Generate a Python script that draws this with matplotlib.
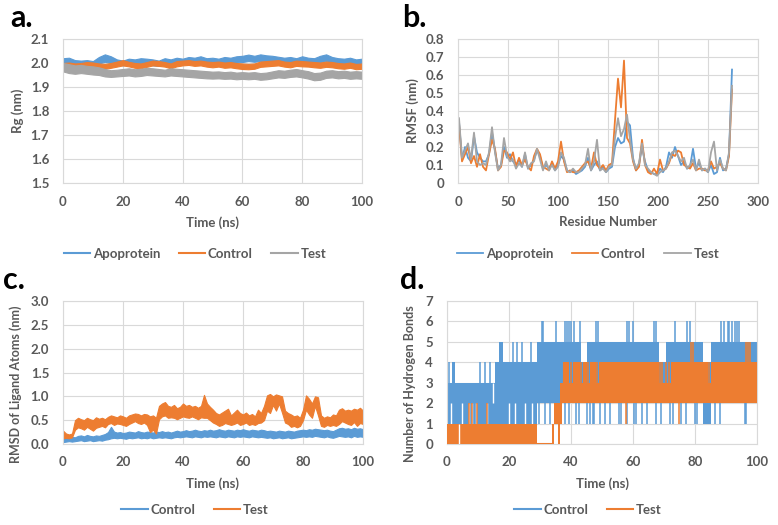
import numpy as np
import matplotlib
matplotlib.use("Agg")
import matplotlib.pyplot as plt

# ---------------- data ----------------
# a. Rg, band per 2 ns (lower / upper edge of the noisy trace)
rg_time = list(range(0, 101, 2))
rg_apo_hi = [2.020, 2.022, 2.012, 2.010, 2.012, 2.008, 2.025, 2.036, 2.028, 2.015, 2.010, 2.018, 2.015,
             2.020, 2.018, 2.015, 2.010, 2.020, 2.015, 2.022, 2.018, 2.025, 2.022, 2.028, 2.020, 2.022,
             2.018, 2.025, 2.022, 2.028, 2.030, 2.035, 2.030, 2.036, 2.032, 2.030, 2.026, 2.022, 2.025,
             2.020, 2.028, 2.022, 2.020, 2.030, 2.036, 2.025, 2.020, 2.018, 2.022, 2.015, 2.018]
rg_apo_lo = [1.995, 1.998, 1.990, 1.988, 1.992, 1.990, 1.998, 2.005, 2.000, 1.995, 1.990, 1.994, 1.990,
             1.996, 1.995, 1.990, 1.988, 1.995, 1.992, 1.996, 1.995, 2.000, 1.998, 2.000, 1.996, 1.998,
             1.995, 2.000, 1.998, 2.002, 2.004, 2.008, 2.005, 2.008, 2.006, 2.004, 2.000, 1.998, 2.000,
             1.996, 2.002, 1.998, 1.995, 2.004, 2.008, 2.000, 1.995, 1.994, 1.996, 1.990, 1.992]
rg_ctl_hi = [2.000, 2.002, 1.998, 2.000, 2.004, 2.002, 1.998, 1.996, 2.000, 2.006, 2.012, 2.005, 2.000,
             1.998, 2.004, 2.010, 2.008, 2.004, 1.998, 2.008, 2.010, 2.012, 2.008, 2.010, 2.006, 2.004,
             2.006, 2.002, 2.004, 2.000, 1.998, 1.996, 1.998, 2.006, 2.008, 2.010, 2.012, 2.006, 2.004,
             2.010, 2.008, 2.006, 2.004, 2.002, 2.006, 2.004, 2.000, 1.998, 2.002, 1.996, 1.998]
rg_ctl_lo = [1.985, 1.980, 1.978, 1.984, 1.986, 1.984, 1.980, 1.976, 1.980, 1.985, 1.990, 1.986, 1.980,
             1.978, 1.984, 1.990, 1.988, 1.985, 1.978, 1.986, 1.990, 1.992, 1.988, 1.990, 1.985, 1.982,
             1.985, 1.980, 1.982, 1.978, 1.975, 1.974, 1.976, 1.984, 1.986, 1.988, 1.990, 1.985, 1.982,
             1.988, 1.986, 1.985, 1.982, 1.980, 1.984, 1.982, 1.978, 1.976, 1.980, 1.974, 1.976]
rg_test_hi = [2.000, 1.995, 1.990, 1.992, 1.988, 1.986, 1.982, 1.975, 1.970, 1.972, 1.975, 1.978, 1.974,
              1.976, 1.980, 1.978, 1.975, 1.972, 1.978, 1.976, 1.974, 1.972, 1.970, 1.968, 1.966, 1.964,
              1.965, 1.962, 1.964, 1.960, 1.962, 1.960, 1.962, 1.958, 1.960, 1.965, 1.970, 1.968, 1.972,
              1.975, 1.970, 1.966, 1.958, 1.960, 1.968, 1.970, 1.966, 1.968, 1.964, 1.966, 1.964]
rg_test_lo = [1.965, 1.958, 1.955, 1.958, 1.955, 1.952, 1.950, 1.944, 1.942, 1.944, 1.946, 1.948, 1.944,
              1.946, 1.950, 1.948, 1.946, 1.944, 1.948, 1.946, 1.944, 1.942, 1.940, 1.938, 1.936, 1.935,
              1.936, 1.934, 1.935, 1.932, 1.934, 1.932, 1.934, 1.930, 1.932, 1.936, 1.940, 1.938, 1.942,
              1.944, 1.940, 1.935, 1.928, 1.930, 1.938, 1.940, 1.936, 1.938, 1.934, 1.936, 1.934]

# b. RMSF per residue (every 3rd residue)
residue = list(range(1, 275, 3))
rmsf_apo = [0.34, 0.13, 0.20, 0.14, 0.12, 0.26, 0.17, 0.14, 0.12, 0.12, 0.16, 0.28, 0.18, 0.08, 0.10,
            0.20, 0.14, 0.16, 0.12, 0.10, 0.13, 0.09, 0.16, 0.08, 0.10, 0.13, 0.18, 0.15, 0.08, 0.10,
            0.08, 0.11, 0.07, 0.10, 0.15, 0.13, 0.07, 0.06, 0.07, 0.05, 0.06, 0.07, 0.09, 0.14, 0.07,
            0.10, 0.12, 0.07, 0.09, 0.06, 0.08, 0.09, 0.20, 0.25, 0.22, 0.23, 0.34, 0.32, 0.14, 0.07,
            0.10, 0.20, 0.12, 0.07, 0.06, 0.05, 0.05, 0.08, 0.06, 0.09, 0.17, 0.14, 0.20, 0.15, 0.10,
            0.12, 0.08, 0.09, 0.19, 0.08, 0.11, 0.07, 0.08, 0.06, 0.10, 0.05, 0.06, 0.14, 0.07, 0.08,
            0.16, 0.63]
rmsf_ctl = [0.33, 0.12, 0.16, 0.20, 0.11, 0.15, 0.09, 0.16, 0.09, 0.07, 0.16, 0.24, 0.19, 0.07, 0.09,
            0.18, 0.17, 0.13, 0.17, 0.09, 0.14, 0.10, 0.13, 0.09, 0.07, 0.15, 0.19, 0.16, 0.09, 0.08,
            0.07, 0.12, 0.08, 0.12, 0.23, 0.12, 0.06, 0.07, 0.06, 0.06, 0.07, 0.09, 0.11, 0.12, 0.08,
            0.17, 0.10, 0.08, 0.10, 0.07, 0.10, 0.11, 0.35, 0.58, 0.42, 0.68, 0.25, 0.22, 0.12, 0.07,
            0.09, 0.24, 0.10, 0.06, 0.05, 0.08, 0.05, 0.13, 0.07, 0.08, 0.11, 0.16, 0.15, 0.18, 0.17,
            0.10, 0.09, 0.08, 0.11, 0.07, 0.08, 0.08, 0.07, 0.07, 0.12, 0.08, 0.09, 0.11, 0.08, 0.07,
            0.15, 0.52]
rmsf_test = [0.36, 0.14, 0.18, 0.22, 0.13, 0.28, 0.12, 0.10, 0.11, 0.10, 0.17, 0.31, 0.17, 0.07, 0.10,
             0.25, 0.15, 0.12, 0.13, 0.08, 0.11, 0.09, 0.17, 0.08, 0.11, 0.12, 0.19, 0.13, 0.07, 0.12,
             0.07, 0.10, 0.07, 0.09, 0.17, 0.14, 0.07, 0.06, 0.08, 0.06, 0.06, 0.08, 0.10, 0.19, 0.07,
             0.12, 0.24, 0.07, 0.08, 0.06, 0.09, 0.10, 0.25, 0.36, 0.26, 0.30, 0.38, 0.24, 0.13, 0.08,
             0.11, 0.22, 0.10, 0.08, 0.06, 0.05, 0.04, 0.06, 0.07, 0.08, 0.12, 0.17, 0.18, 0.15, 0.12,
             0.14, 0.08, 0.10, 0.13, 0.07, 0.13, 0.07, 0.08, 0.06, 0.17, 0.23, 0.07, 0.13, 0.08, 0.07,
             0.17, 0.54]

# c. ligand RMSD, band per 1 ns
rmsd_time = list(range(0, 101))
rmsd_test_hi = [0.28, 0.22, 0.20, 0.22, 0.50, 0.55, 0.52, 0.50, 0.55, 0.52, 0.50, 0.56, 0.53, 0.55, 0.52,
                0.57, 0.60, 0.58, 0.56, 0.60, 0.58, 0.55, 0.60, 0.62, 0.64, 0.63, 0.60, 0.63, 0.62, 0.58,
                0.60, 0.55, 0.80, 0.85, 0.88, 0.80, 0.78, 0.82, 0.75, 0.78, 0.85, 0.80, 0.82, 0.78, 0.80,
                0.76, 0.80, 1.03, 0.85, 0.78, 0.72, 0.65, 0.62, 0.66, 0.70, 0.74, 0.60, 0.66, 0.72, 0.65,
                0.62, 0.66, 0.60, 0.63, 0.58, 0.72, 0.65, 0.80, 1.02, 1.05, 1.00, 1.04, 1.02, 1.00, 0.70,
                0.65, 0.62, 0.58, 0.60, 0.55, 0.72, 1.02, 0.95, 0.85, 1.00, 0.98, 0.60, 0.55, 0.58, 0.56,
                0.62, 0.60, 0.72, 0.75, 0.70, 0.72, 0.70, 0.74, 0.72, 0.76, 0.70]
rmsd_test_lo = [0.12, 0.13, 0.12, 0.14, 0.30, 0.35, 0.33, 0.30, 0.36, 0.32, 0.28, 0.34, 0.36, 0.38, 0.35,
                0.42, 0.44, 0.40, 0.43, 0.42, 0.40, 0.38, 0.42, 0.45, 0.48, 0.44, 0.42, 0.45, 0.40, 0.25,
                0.30, 0.22, 0.52, 0.58, 0.60, 0.55, 0.56, 0.55, 0.52, 0.55, 0.58, 0.56, 0.55, 0.58, 0.55,
                0.52, 0.56, 0.55, 0.55, 0.50, 0.45, 0.42, 0.38, 0.40, 0.44, 0.42, 0.40, 0.42, 0.45, 0.40,
                0.42, 0.45, 0.40, 0.42, 0.40, 0.44, 0.45, 0.50, 0.70, 0.65, 0.82, 0.70, 0.85, 0.66, 0.45,
                0.42, 0.36, 0.38, 0.35, 0.38, 0.50, 0.72, 0.62, 0.55, 0.80, 0.60, 0.38, 0.36, 0.40, 0.38,
                0.40, 0.38, 0.42, 0.48, 0.45, 0.42, 0.40, 0.46, 0.38, 0.44, 0.42]
rmsd_ctl_hi = [0.12, 0.14, 0.13, 0.15, 0.14, 0.17, 0.18, 0.16, 0.19, 0.17, 0.16, 0.18, 0.17, 0.19, 0.21,
               0.25, 0.36, 0.26, 0.24, 0.25, 0.23, 0.24, 0.26, 0.25, 0.24, 0.27, 0.25, 0.24, 0.26, 0.25,
               0.24, 0.26, 0.25, 0.27, 0.25, 0.26, 0.24, 0.26, 0.28, 0.26, 0.27, 0.29, 0.27, 0.28, 0.30,
               0.28, 0.27, 0.29, 0.28, 0.30, 0.28, 0.29, 0.31, 0.29, 0.28, 0.30, 0.29, 0.28, 0.30, 0.29,
               0.31, 0.29, 0.28, 0.30, 0.29, 0.28, 0.30, 0.29, 0.27, 0.28, 0.27, 0.26, 0.28, 0.27, 0.26,
               0.28, 0.27, 0.26, 0.28, 0.29, 0.30, 0.29, 0.31, 0.30, 0.32, 0.31, 0.30, 0.29, 0.30, 0.28,
               0.27, 0.30, 0.33, 0.34, 0.32, 0.33, 0.31, 0.34, 0.32, 0.33, 0.31]
rmsd_ctl_lo = [0.04, 0.05, 0.06, 0.05, 0.06, 0.07, 0.08, 0.06, 0.07, 0.08, 0.06, 0.07, 0.08, 0.07, 0.09,
               0.10, 0.12, 0.13, 0.12, 0.13, 0.12, 0.11, 0.13, 0.12, 0.13, 0.14, 0.12, 0.13, 0.12, 0.14,
               0.12, 0.13, 0.14, 0.13, 0.14, 0.13, 0.12, 0.14, 0.15, 0.14, 0.15, 0.16, 0.15, 0.14, 0.16,
               0.15, 0.14, 0.16, 0.15, 0.16, 0.15, 0.14, 0.16, 0.15, 0.14, 0.16, 0.15, 0.14, 0.16, 0.15,
               0.16, 0.15, 0.14, 0.16, 0.15, 0.14, 0.15, 0.14, 0.13, 0.14, 0.12, 0.13, 0.14, 0.12, 0.13,
               0.14, 0.12, 0.13, 0.14, 0.15, 0.16, 0.15, 0.16, 0.15, 0.17, 0.16, 0.15, 0.14, 0.16, 0.14,
               0.13, 0.15, 0.17, 0.16, 0.15, 0.16, 0.14, 0.17, 0.15, 0.16, 0.15]

# d. hydrogen bonds: dense blocks (start, end, low, high), single flips, white gaps
hb_ctl_start = [0, 1.5, 15.5, 16.8, 29, 37, 43.2, 45, 68.5, 70.5, 82.5, 85, 82.5]
hb_ctl_end = [15.5, 2.5, 29, 18.2, 37, 43.2, 45, 68.5, 70.5, 82.5, 85, 100, 85]
hb_ctl_low = [1, 3, 1, 4, 2, 2, 2, 2, 2, 2, 2, 2, 1]
hb_ctl_high = [3, 4, 4, 5, 5, 5, 4, 5, 4, 5, 4, 5, 2]
hb_ctl_flip_t = [0.5, 10.7, 12.3, 13.9,
                 21.4, 22.5, 24.3, 27.1,
                 30.5, 31, 35, 38, 38.6, 39.3, 40, 41, 43, 48, 48.6, 58, 58.6, 60, 66.8, 67.4,
                 73.5, 77.5, 78.5, 88.5, 89.5, 90.5, 91, 92, 93, 93.6, 94.2,
                 29.8, 31.5, 33.2, 38.2, 39.5, 41.5, 42.5, 45, 46, 47, 47.5, 49.5, 51, 52.5, 55.5,
                 56, 58, 60.2, 61, 63, 64.5, 67.5, 69, 72, 72.8, 75.5, 77, 80, 80.8, 86.5, 88,
                 96, 96.5]
hb_ctl_flip_from = [3] * 4 + [4] * 4 + [5] * 27 + [2] * 33
hb_ctl_flip_to = [4] * 4 + [5] * 4 + [6] * 27 + [1] * 33
hb_ctl_gap_t = [1.2, 4.8, 7.0, 8.0, 9.2, 12.8, 14.8, 20.0, 22.0, 25.0, 27.5]
hb_ctl_gap_low = [1, 1, 1, 1, 1, 1, 2, 1, 1, 1, 1]
hb_ctl_gap_high = [2, 2, 2, 2, 2, 2, 3, 2, 2, 2, 2]

hb_test_start = [0, 33.8, 34.4, 35.8, 36.5, 37.3, 37.3, 40.5, 43.8, 46, 49, 72.4, 85]
hb_test_end = [29, 34.4, 37.2, 36.4, 37.5, 100, 39.5, 42.8, 45.2, 48, 68.3, 84.2, 100]
hb_test_low = [0, 0, 1, 0, 2, 2, 3, 3, 3, 3, 3, 3, 3]
hb_test_high = [1, 1, 2, 1, 3, 3, 4, 4, 4, 4, 4, 4, 4]
hb_test_zero_start, hb_test_zero_end = 29, 34
hb_test_flip_t = [7, 8, 9.8, 13,
                  40.0, 43.3, 45.6, 48.5, 68.6, 69.3, 70.5, 71.5, 84.6,
                  78.8, 79.4, 96.5, 97.2, 97.8,
                  57.8, 74.8]
hb_test_flip_from = [1] * 4 + [3] * 9 + [4] * 5 + [2] * 2
hb_test_flip_to = [2] * 4 + [4] * 9 + [5] * 5 + [1] * 2
hb_test_gap_t = [3.8]

# tick labels
rg_ticks = [1.5, 1.6, 1.7, 1.8, 1.9, 2.0, 2.1]
rmsf_ticks = [0, 0.1, 0.2, 0.3, 0.4, 0.5, 0.6, 0.7, 0.8]
rmsf_tick_labels = ["0", "0.1", "0.2", "0.3", "0.4", "0.5", "0.6", "0.7", "0.8"]
rmsd_ticks = [0.0, 0.5, 1.0, 1.5, 2.0, 2.5, 3.0]
hb_ticks = [0, 1, 2, 3, 4, 5, 6, 7]
time_ticks = [0, 20, 40, 60, 80, 100]
res_ticks = [0, 50, 100, 150, 200, 250, 300]

# ---------------- style ----------------
BLUE, ORANGE, GRAY = "#5B9BD5", "#ED7D31", "#A5A5A5"
TXT = "#595959"
GRID = "#D9D9D9"
plt.rcParams["font.family"] = ["Lato", "DejaVu Sans"]

fig = plt.figure(figsize=(7.78, 5.25), dpi=100)
W, H = 778, 525


def add_ax(x0, y0, x1, y1):
    # pixel box (left, top, right, bottom) -> figure fraction
    return fig.add_axes([x0 / W, 1 - y1 / H, (x1 - x0) / W, (y1 - y0) / H])


def style(ax, xticks, yticks, xlabel, ylabel, ylabels=None, ylabel_size=9.5, ylabel_pos=None):
    ax.set_xticks(xticks)
    ax.set_yticks(yticks)
    if ylabels is not None:
        ax.set_yticklabels(ylabels)
    ax.set_xlim(xticks[0], xticks[-1])
    ax.set_ylim(yticks[0], yticks[-1])
    ax.grid(True, color=GRID, lw=0.8, zorder=0)
    ax.set_axisbelow(True)
    for s in ax.spines.values():
        s.set_color(GRID)
        s.set_linewidth(0.8)
    ax.tick_params(length=0, labelsize=9.5, labelcolor=TXT)
    ax.tick_params(axis="x", pad=9)
    ax.tick_params(axis="y", pad=10)
    for lab in ax.get_xticklabels() + ax.get_yticklabels():
        lab.set_fontweight("bold")
    ax.set_xlabel(xlabel, fontsize=9.5, color=TXT, fontweight="bold", labelpad=6)
    ax.set_ylabel(ylabel, fontsize=ylabel_size, color=TXT, fontweight="bold", labelpad=5)
    if ylabel_pos is not None:
        ax.yaxis.set_label_coords(*ylabel_pos)


def legend(ax, x, y):
    ax.legend(loc="center", bbox_to_anchor=(x / W, 1 - y / H), bbox_transform=fig.transFigure,
              ncol=3, frameon=False, handlelength=2.0, handletextpad=0.2, columnspacing=1.4,
              prop={"size": 9.5, "weight": "bold"}, labelcolor=TXT)


# a. Rg
ax = add_ax(63, 39, 362, 183)
for lo, hi, c, lab in [(rg_apo_lo, rg_apo_hi, BLUE, "Apoprotein"),
                       (rg_ctl_lo, rg_ctl_hi, ORANGE, "Control"),
                       (rg_test_lo, rg_test_hi, GRAY, "Test")]:
    ax.fill_between(rg_time, lo, hi, color=c, lw=0.8, edgecolor=c, zorder=2)
    ax.plot([], [], color=c, lw=1.5, label=lab)
style(ax, time_ticks, rg_ticks, "Time (ns)", "Rg (nm)")
ax.set_yticklabels([f"{v:.1f}" for v in rg_ticks])
legend(ax, 195, 254)

# b. RMSF
ax = add_ax(458, 39, 758, 183)
ax.plot(residue, rmsf_apo, color=BLUE, lw=1.3, label="Apoprotein")
ax.plot(residue, rmsf_ctl, color=ORANGE, lw=1.3, label="Control")
ax.plot(residue, rmsf_test, color=GRAY, lw=1.3, label="Test")
style(ax, res_ticks, rmsf_ticks, "Residue Number", "RMSF (nm)", rmsf_tick_labels)
legend(ax, 588, 254)

# c. ligand RMSD
ax = add_ax(63, 301, 363, 444)
ax.fill_between(rmsd_time, rmsd_ctl_lo, rmsd_ctl_hi, color=BLUE, lw=0.8, edgecolor=BLUE, zorder=2)
ax.fill_between(rmsd_time, rmsd_test_lo, rmsd_test_hi, color=ORANGE, lw=0.8, edgecolor=ORANGE, zorder=2)
ax.plot([], [], color=BLUE, lw=1.5, label="Control")
ax.plot([], [], color=ORANGE, lw=1.5, label="Test")
style(ax, time_ticks, rmsd_ticks, "Time (ns)", "RMSD of Ligand Atoms (nm)",
      ylabel_size=9, ylabel_pos=(-0.135, 0.42))
ax.set_yticklabels([f"{v:.1f}" for v in rmsd_ticks])
legend(ax, 195, 510)

# d. hydrogen bonds
ax = add_ax(447, 301, 757, 444)
for s, e, lo, hi in zip(hb_ctl_start, hb_ctl_end, hb_ctl_low, hb_ctl_high):
    ax.fill_between([s, e], [lo, lo], [hi, hi], color=BLUE, lw=0, zorder=2)
ax.vlines(hb_ctl_flip_t, hb_ctl_flip_from, hb_ctl_flip_to, color=BLUE, lw=1.1, zorder=2)
ax.vlines(hb_ctl_gap_t, hb_ctl_gap_low, hb_ctl_gap_high, color="white", lw=1.0, zorder=2)
for s, e, lo, hi in zip(hb_test_start, hb_test_end, hb_test_low, hb_test_high):
    ax.fill_between([s, e], [lo, lo], [hi, hi], color=ORANGE, lw=0, zorder=3)
ax.hlines(0, hb_test_zero_start, hb_test_zero_end, color=ORANGE, lw=1.5, zorder=3)
ax.vlines(hb_test_flip_t, hb_test_flip_from, hb_test_flip_to, color=ORANGE, lw=1.1, zorder=3)
ax.vlines(hb_test_gap_t, 0, 1, color="white", lw=1.0, zorder=3)
ax.plot([], [], color=BLUE, lw=1.5, label="Control")
ax.plot([], [], color=ORANGE, lw=1.5, label="Test")
style(ax, time_ticks, hb_ticks, "Time (ns)", "Number of Hydrogen Bonds",
      ylabel_size=9, ylabel_pos=(-0.1, 0.42))
legend(ax, 588, 510)

# panel letters
for x, y, letter in [(10, 27, "a."), (402, 27, "b."), (3, 289, "c."), (400, 289, "d.")]:
    fig.text(x / W, 1 - y / H, letter, fontsize=22, fontweight="bold", color="black",
             ha="left", va="baseline")

fig.savefig("out.png", dpi=100)
